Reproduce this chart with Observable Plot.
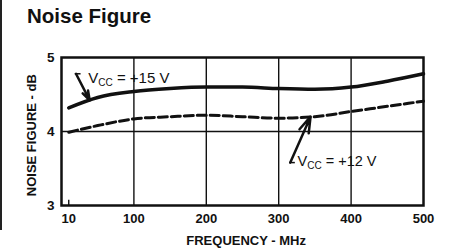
<!DOCTYPE html>
<html><head><meta charset="utf-8">
<script src="https://cdn.jsdelivr.net/npm/d3@7"></script>
<script src="https://cdn.jsdelivr.net/npm/@observablehq/plot@0.6"></script>
<style>
body{margin:0;background:#fff;}
#wrap{position:relative;width:451px;height:252px;overflow:hidden;font-family:"Liberation Sans",Arial,sans-serif;}
#title{position:absolute;left:27px;top:4px;font-weight:bold;font-size:20.5px;color:#111;z-index:2;}
#edge{position:absolute;left:0;top:0;width:2px;height:230px;background:#222;z-index:2;}
#wrap svg{position:absolute;left:0;top:0;}
</style></head><body><div id="wrap"><div id="edge"></div><div id="title">Noise Figure</div></div>
<script>
// Data
const freq = [10, 50, 100, 150, 200, 250, 300, 350, 400, 450, 500];
const nf15 = [4.32, 4.46, 4.54, 4.58, 4.60, 4.60, 4.58, 4.57, 4.60, 4.68, 4.78];
const nf12 = [3.99, 4.08, 4.17, 4.20, 4.22, 4.20, 4.18, 4.20, 4.27, 4.34, 4.41];
const xTicks = [10, 100, 200, 300, 400, 500];
const xGrid = [100, 200, 300, 400];
const yTicks = [3, 4, 5];
const yGrid = [4];
const labels = {v15: "Vcc = +15 V", v12: "Vcc = +12 V", x: "FREQUENCY - MHz", y: "NOISE FIGURE - dB"};

const s15 = freq.map((f, i) => ({f, v: nf15[i]}));
const s12 = freq.map((f, i) => ({f, v: nf12[i]}));

const ink = "#111";
const chart = Plot.plot({
  width: 451, height: 252,
  marginLeft: 61, marginRight: 28, marginTop: 57, marginBottom: 47,
  style: {fontFamily: "'Liberation Sans', Arial, sans-serif", color: ink, background: "transparent"},
  x: {type: "linear", domain: [0, 500]},
  y: {domain: [3, 5]},
  marks: [
    Plot.gridX(xGrid, {stroke: ink, strokeOpacity: 1, strokeWidth: 1.4}),
    Plot.gridY(yGrid, {stroke: ink, strokeOpacity: 1, strokeWidth: 1.4}),
    Plot.ruleX([10], {y1: 3, y2: 3.07, stroke: ink, strokeWidth: 1.4}),
    Plot.frame({stroke: ink, strokeWidth: 2.5}),
    Plot.axisX(xTicks, {tickSize: 0, tickPadding: 8, fontSize: 13, fontWeight: "bold", tickFormat: d => String(d), label: null}),
    Plot.axisY(yTicks, {tickSize: 0, tickPadding: 7, fontSize: 13.5, fontWeight: "bold", tickFormat: d => String(d), label: null}),
    Plot.text([labels.x], {x: 255, y: 2.52, fontSize: 13, fontWeight: "bold", letterSpacing: "1.5px", fill: ink}),
    Plot.text([labels.y], {x: -41, y: 3.95, rotate: -90, fontSize: 13, fontWeight: "bold", letterSpacing: "1px", fill: ink}),
    Plot.line(s15, {x: "f", y: "v", curve: "monotone-x", stroke: ink, strokeWidth: 3.5}),
    Plot.line(s12, {x: "f", y: "v", curve: "monotone-x", stroke: ink, strokeWidth: 3, strokeDasharray: "9,4"}),
    // annotation +15 V
    Plot.text([labels.v15], {x: 37, y: 4.72, textAnchor: "start", fontSize: 15, fill: ink}),
    Plot.ruleY([4.78], {x1: 19, x2: 27, stroke: ink, strokeWidth: 1.5}),
    Plot.arrow([0], {x1: 20, y1: 4.78, x2: 39, y2: 4.42, stroke: ink, strokeWidth: 2.5, headLength: 12, headAngle: 35}),
    // annotation +12 V
    Plot.text([labels.v12], {x: 326, y: 3.6, textAnchor: "start", fontSize: 14.5, fill: ink}),
    Plot.ruleY([3.58], {x1: 315, x2: 323, stroke: ink, strokeWidth: 1.5}),
    Plot.arrow([0], {x1: 316, y1: 3.58, x2: 344, y2: 4.2, stroke: ink, strokeWidth: 2.5, headLength: 12, headAngle: 35})
  ]
});

// subscript "CC"
const NS = "http://www.w3.org/2000/svg";
chart.querySelectorAll("text").forEach(t => {
  const s = t.textContent;
  if (s.startsWith("Vcc")) {
    const rest = s.slice(3);
    while (t.firstChild) t.removeChild(t.firstChild);
    t.appendChild(document.createTextNode("V"));
    const sub = document.createElementNS(NS, "tspan");
    sub.setAttribute("font-size", "10");
    sub.setAttribute("dy", "3");
    sub.textContent = "CC";
    t.appendChild(sub);
    const r = document.createElementNS(NS, "tspan");
    r.setAttribute("dy", "-3");
    r.textContent = rest;
    t.appendChild(r);
  }
});
document.getElementById("wrap").appendChild(chart);
</script>
</body></html>
